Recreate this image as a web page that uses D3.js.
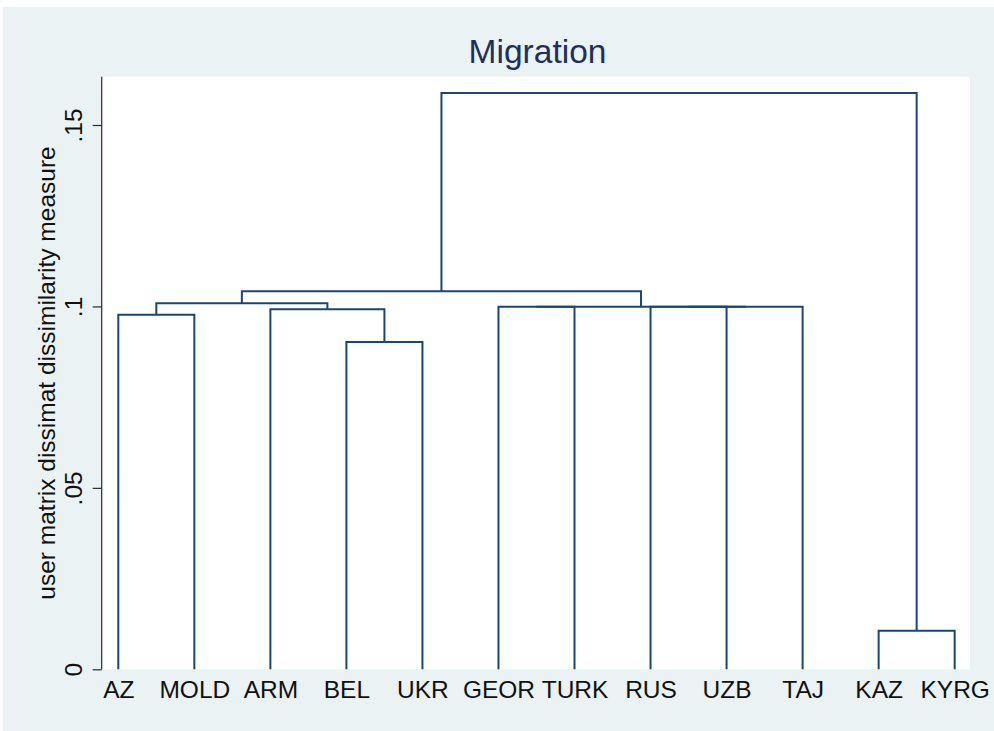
<!DOCTYPE html>
<html>
<head>
<meta charset="utf-8">
<script src="https://cdn.jsdelivr.net/npm/d3@7"></script>
<style>
  html, body { margin: 0; padding: 0; background: #ffffff; }
  svg { display: block; }
  text { font-family: "Liberation Sans", Arial, Helvetica, sans-serif; }
</style>
</head>
<body>
<svg id="chart" width="994" height="731"></svg>
<script>
// Leaves of the dendrogram, in plotting order
const leaves = ["AZ", "MOLD", "ARM", "BEL", "UKR", "GEOR", "TURK", "RUS", "UZB", "TAJ", "KAZ", "KYRG"];

// Agglomeration steps: cluster id, its two members, and the dissimilarity at which they join
const mergeId     = ["c1", "c2", "c3", "c4", "c5", "c6", "c7", "c8", "c9", "c10", "c11"];
const mergeLeft   = ["AZ", "BEL", "ARM", "c1", "GEOR", "RUS", "c6", "c5", "c4", "KAZ", "c9"];
const mergeRight  = ["MOLD", "UKR", "c2", "c3", "TURK", "UZB", "TAJ", "c7", "c8", "KYRG", "c10"];
const mergeHeight = [0.0977, 0.0902, 0.0992, 0.1009, 0.0999, 0.0999, 0.0999, 0.0999, 0.1042, 0.0106, 0.1588];

// Y axis ticks
const yTicks = [0, 0.05, 0.1, 0.15];
const yTickLabels = ["0", ".05", ".1", ".15"];

const titleText = "Migration";
const yTitleText = "user matrix dissimat dissimilarity measure";

const svg = d3.select("#chart");
const W = 994, H = 731;

const plot = { left: 101.7, right: 970, top: 76.7, bottom: 669.3 };

// Graph region background
svg.append("rect")
  .attr("x", 3).attr("y", 7)
  .attr("width", W - 3).attr("height", H - 7)
  .attr("fill", "#eaf2f3");

// Plot region
svg.append("rect")
  .attr("x", plot.left).attr("y", plot.top)
  .attr("width", plot.right - plot.left).attr("height", plot.bottom - plot.top)
  .attr("fill", "#ffffff");

const x = d3.scalePoint()
  .domain(leaves)
  .range([plot.left, plot.right])
  .padding(0.21)
  .align(0.52);

const y = d3.scaleLinear()
  .domain([0, 0.15])
  .range([plot.bottom, 125]);

// Build node positions: leaves sit at height 0, clusters at the midpoint of their members
const nodes = new Map();
leaves.forEach(l => nodes.set(l, { x: x(l), h: 0 }));
mergeId.forEach((id, i) => {
  const a = nodes.get(mergeLeft[i]);
  const b = nodes.get(mergeRight[i]);
  nodes.set(id, { x: (a.x + b.x) / 2, h: mergeHeight[i], a, b });
});

// Dendrogram links
const links = svg.append("g")
  .attr("fill", "none")
  .attr("stroke", "#1a476f")
  .attr("stroke-width", 2)
  .attr("stroke-linejoin", "miter");

mergeId.forEach(id => {
  const n = nodes.get(id);
  const p = d3.path();
  p.moveTo(n.a.x, y(n.a.h));
  p.lineTo(n.a.x, y(n.h));
  p.lineTo(n.b.x, y(n.h));
  p.lineTo(n.b.x, y(n.b.h));
  links.append("path").attr("d", p.toString());
});

// Y axis
const yAxis = svg.append("g")
  .attr("transform", `translate(${plot.left},0)`)
  .call(d3.axisLeft(y).tickValues(yTicks).tickFormat((d, i) => yTickLabels[i]).tickSize(9).tickPadding(0));
yAxis.select(".domain")
  .attr("d", `M0,${plot.top}V${plot.bottom}`)
  .attr("stroke", "#2a2a2a").attr("stroke-width", 1.2);
yAxis.selectAll(".tick line").attr("stroke", "#2a2a2a").attr("stroke-width", 1.2);
yAxis.selectAll(".tick text")
  .attr("x", 0).attr("y", 0).attr("dy", 0)
  .attr("text-anchor", "middle")
  .attr("transform", "translate(-19.4,0) rotate(-90)")
  .attr("font-size", 24.5)
  .attr("fill", "#111")
  .style("font-family", "'Liberation Sans', Arial, sans-serif");

// X labels
const xAxis = svg.append("g")
  .attr("transform", `translate(0,${plot.bottom})`)
  .call(d3.axisBottom(x).tickSize(0).tickPadding(0));
xAxis.select(".domain").remove();
xAxis.selectAll(".tick text")
  .attr("y", 28.4).attr("dy", 0)
  .attr("font-size", 24.5)
  .attr("fill", "#111")
  .style("font-family", "'Liberation Sans', Arial, sans-serif");

// Y axis title
svg.append("text")
  .attr("transform", `translate(55,${(plot.top + plot.bottom) / 2}) rotate(-90)`)
  .attr("text-anchor", "middle")
  .attr("font-size", 24.5)
  .attr("fill", "#111")
  .text(yTitleText);

// Chart title
svg.append("text")
  .attr("x", 537.5).attr("y", 63.3)
  .attr("text-anchor", "middle")
  .attr("font-size", 33.5)
  .attr("fill", "#1f2f5c")
  .text(titleText);
</script>
</body>
</html>
